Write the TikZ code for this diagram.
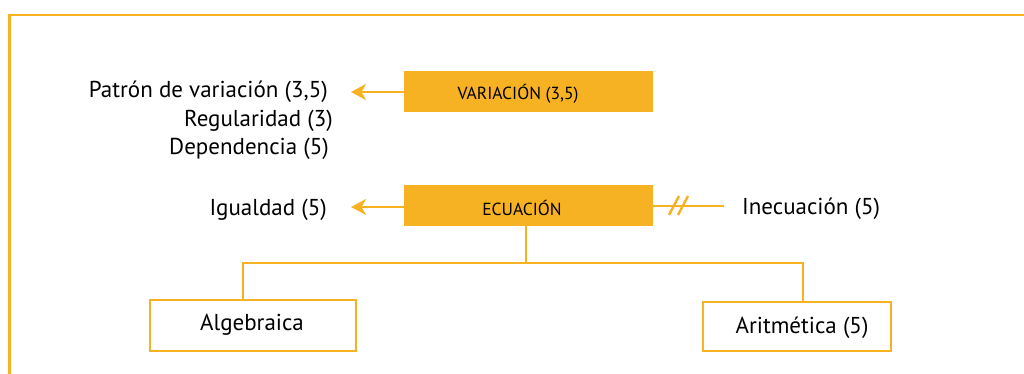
\documentclass[tikz,border=0pt]{standalone}
\usepackage{fontspec}
\setmainfont{PT Sans}
\usetikzlibrary{arrows.meta}
\definecolor{amber}{RGB}{247,178,35}
\tikzset{
  conn/.style={draw=amber, line width=2.8pt},
  arr/.style={conn, -{Triangle[width=16pt,length=15pt,inset=4.5pt]}},
  fillbox/.style={fill=amber, draw=none, minimum width=249pt, minimum height=41pt, inner sep=0pt},
  boxtext/.style={inner sep=0pt, font=\fontsize{17.5}{20}\selectfont},
  linebox/.style={draw=amber, line width=2.8pt, fill=white, inner sep=0pt},
  lbl/.style={inner sep=0pt, font=\fontsize{23}{26}\selectfont},
}
\begin{document}
\begin{tikzpicture}[x=1pt,y=-1pt]
\useasboundingbox (0,0) rectangle (1024,374);
% outer frame (open on the right and bottom)
\draw[conn] (1024,15) -- (9.5,15) -- (9.5,374);

% main boxes
\node[fillbox] (var) at (528.5,91.5) {};
\node[boxtext] (vart) at (518,94) {VARIACIÓN (3,5)};
\node[fillbox] (ecu) at (528.5,205.5) {};
\node[boxtext] (ecut) at (522,208) {ECUACIÓN};

% labels on the left
\node[lbl, anchor=east] (pat) at (328,92) {Patrón de variación (3,5)};
\node[lbl, anchor=east] (reg) at (333,121) {Regularidad (3)};
\node[lbl, anchor=east] (dep) at (329,149) {Dependencia (5)};
\node[lbl, anchor=east] (igu) at (327,210) {Igualdad (5)};
\node[lbl, anchor=west] (ine) at (742,209) {Inecuación (5)};

% arrows to the left
\coordinate (tipv) at (351,92);
\coordinate (tipe) at (351,207);
\draw[arr] (var.west |- tipv) -- (tipv);
\draw[arr] (ecu.west |- tipe) -- (tipe);

% line to Inecuación with the "//" mark
\coordinate (inend) at (724,206);
\draw[conn] (ecu.east |- inend) -- (inend);
\draw[draw=amber, line width=2.4pt] (669,215) -- (679,196);
\draw[draw=amber, line width=2.4pt] (678,215) -- (688,196);

% branch to the two kinds
\node[linebox, minimum width=206pt, minimum height=51pt] (alg) at (253,325.5) {};
\node[lbl] (algt) at (252,325) {Algebraica};
\node[linebox, minimum width=188pt, minimum height=49pt] (ari) at (797,326.5) {};
\node[lbl] (arit) at (802,328) {Aritmética (5)};
\coordinate (jn) at (526,263);
\draw[conn] (ecu.south -| jn) -- (jn);
\draw[conn] (alg.north -| 243,0) -- (243,263) -- (803,263) -- (ari.north -| 803,0);
\end{tikzpicture}
\end{document}
